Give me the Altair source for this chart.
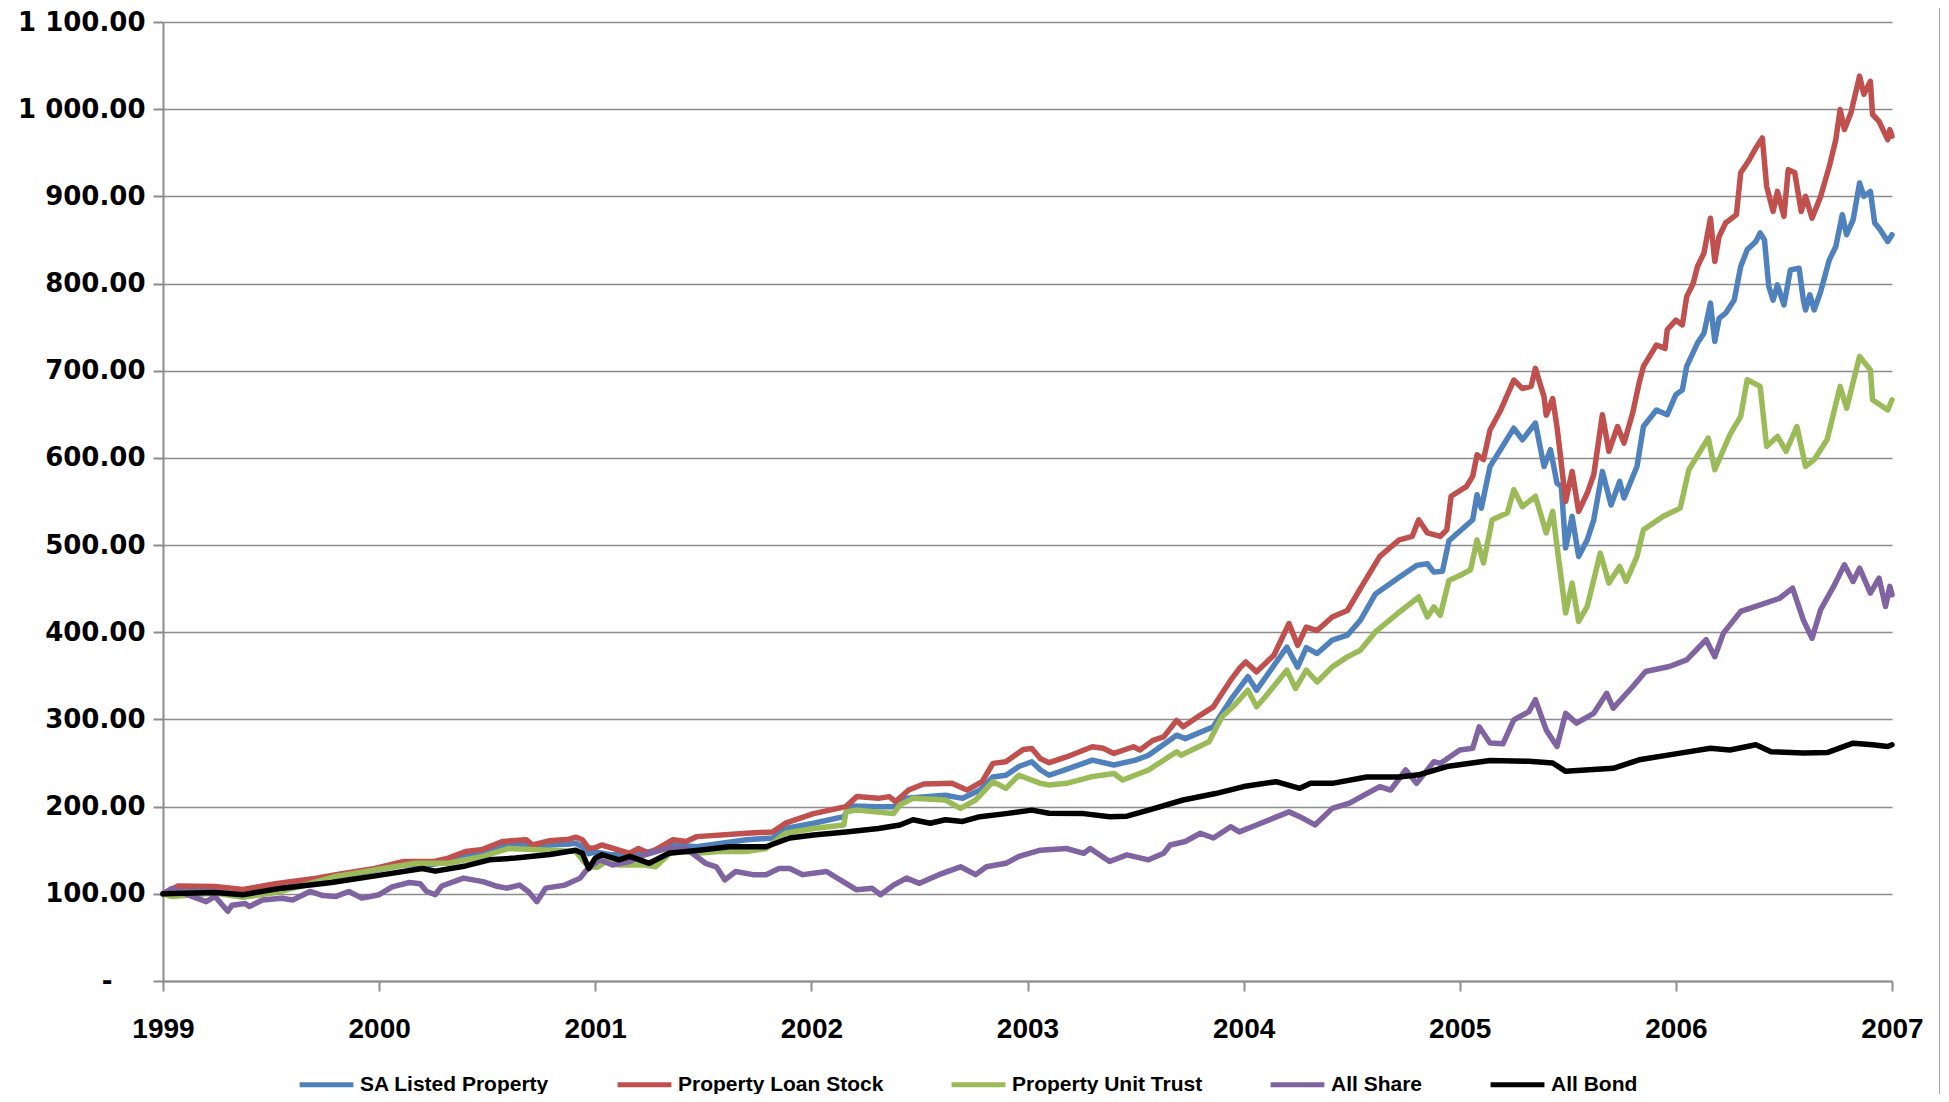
import altair as alt
import pandas as pd

series_names = ["SA Listed Property", "Property Loan Stock", "Property Unit Trust", "All Share", "All Bond"]
series_colors = ["#4F81BD", "#C0504D", "#9BBB59", "#8064A2", "#000000"]

# SA Listed Property
sal_t = [1999.00, 1999.07, 1999.24, 1999.37, 1999.52, 1999.71, 1999.80, 1999.98, 2000.11, 2000.25,
         2000.32, 2000.40, 2000.48, 2000.57, 2000.68, 2000.71, 2000.79, 2000.88, 2000.91, 2000.94,
         2000.97, 2001.00, 2001.08, 2001.20, 2001.36, 2001.47, 2001.70, 2001.82, 2001.88, 2002.01,
         2002.15, 2002.18, 2002.31, 2002.38, 2002.44, 2002.62, 2002.70, 2002.78, 2002.84, 2002.90,
         2002.96, 2003.02, 2003.06, 2003.10, 2003.18, 2003.30, 2003.40, 2003.50, 2003.56, 2003.69,
         2003.73, 2003.86, 2003.90, 2003.95, 2004.02, 2004.06, 2004.20, 2004.25, 2004.29, 2004.34,
         2004.41, 2004.48, 2004.54, 2004.61, 2004.72, 2004.80, 2004.85, 2004.88, 2004.92, 2004.95,
         2005.06, 2005.08, 2005.10, 2005.14, 2005.25, 2005.29, 2005.35, 2005.39, 2005.42, 2005.45,
         2005.47, 2005.49, 2005.52, 2005.55, 2005.59, 2005.62, 2005.66, 2005.70, 2005.74, 2005.76,
         2005.82, 2005.85, 2005.91, 2005.96, 2006.00, 2006.03, 2006.05, 2006.10, 2006.13, 2006.16,
         2006.18, 2006.20, 2006.23, 2006.27, 2006.30, 2006.33, 2006.37, 2006.39, 2006.41, 2006.43,
         2006.45, 2006.47, 2006.50, 2006.53, 2006.57, 2006.59, 2006.60, 2006.62, 2006.64, 2006.67,
         2006.71, 2006.74, 2006.77, 2006.79, 2006.82, 2006.85, 2006.87, 2006.90, 2006.92, 2006.94,
         2006.98, 2007.00]
sal_v = [100, 106, 105, 101, 107, 114, 119, 127, 133, 134,
         137, 144, 146, 154, 157, 152, 156, 157, 158, 154,
         146, 148, 144.7, 144.7, 156, 154, 162, 164, 175, 181,
         188.5, 200.8, 200, 200, 209.5, 213, 209.5, 219, 234, 236,
         246, 251.5, 242, 236, 242.7, 253.4, 247.7, 253.4, 259, 282,
         278, 291.6, 307, 326, 349, 333.6, 383, 360, 382.4, 375.6,
         391, 396.6, 413.7, 444, 463, 476.7, 478.6, 469, 470, 505,
         529, 557.7, 542.4, 590.2, 634, 620.8, 640, 590.2, 609.4, 571,
         567.3, 496.6, 532.9, 487, 506, 529, 584.5, 546, 573, 554,
         590.2, 636, 655, 649.5, 672.5, 678, 705, 731.7, 743, 777.6,
         733.5, 760, 766, 781.2, 819.5, 838.7, 848.3, 858, 850, 796.6,
         781, 798.5, 775.5, 815.7, 817.6, 781, 769.7, 787, 769.7, 790.8,
         827.2, 842.5, 879, 856, 873, 915.3, 900, 905.7, 869.4, 863.6,
         848.3, 856]

# Property Loan Stock
pls_t = [1999.00, 1999.07, 1999.24, 1999.37, 1999.52, 1999.71, 1999.80, 1999.98, 2000.11, 2000.25,
         2000.32, 2000.40, 2000.48, 2000.57, 2000.68, 2000.71, 2000.79, 2000.88, 2000.91, 2000.94,
         2000.97, 2001.00, 2001.03, 2001.16, 2001.20, 2001.25, 2001.36, 2001.42, 2001.47, 2001.70,
         2001.82, 2001.88, 2002.01, 2002.16, 2002.21, 2002.31, 2002.36, 2002.39, 2002.45, 2002.52,
         2002.65, 2002.72, 2002.79, 2002.84, 2002.90, 2002.98, 2003.02, 2003.06, 2003.10, 2003.18,
         2003.30, 2003.35, 2003.40, 2003.49, 2003.52, 2003.58, 2003.63, 2003.69, 2003.72, 2003.80,
         2003.86, 2003.89, 2003.94, 2003.98, 2004.01, 2004.06, 2004.14, 2004.21, 2004.25, 2004.29,
         2004.34, 2004.41, 2004.48, 2004.54, 2004.60, 2004.63, 2004.72, 2004.78, 2004.81, 2004.85,
         2004.91, 2004.94, 2004.96, 2005.03, 2005.06, 2005.08, 2005.11, 2005.14, 2005.19, 2005.25,
         2005.29, 2005.33, 2005.35, 2005.39, 2005.40, 2005.43, 2005.45, 2005.46, 2005.49, 2005.52,
         2005.55, 2005.59, 2005.62, 2005.66, 2005.69, 2005.73, 2005.76, 2005.80, 2005.83, 2005.85,
         2005.91, 2005.95, 2005.96, 2006.00, 2006.03, 2006.05, 2006.08, 2006.10, 2006.13, 2006.16,
         2006.18, 2006.20, 2006.23, 2006.28, 2006.30, 2006.34, 2006.37, 2006.40, 2006.42, 2006.45,
         2006.47, 2006.50, 2006.52, 2006.55, 2006.58, 2006.60, 2006.63, 2006.67, 2006.71, 2006.74,
         2006.76, 2006.78, 2006.81, 2006.83, 2006.85, 2006.87, 2006.90, 2006.91, 2006.94, 2006.98,
         2006.99, 2007.00]
pls_v = [100, 109, 108.4, 105, 111.5, 118, 122, 129, 137, 137,
         141, 148.5, 151, 160, 162, 156, 161, 162.6, 165, 162,
         152, 153, 156, 146.5, 152, 146.5, 162, 160, 165.6, 169.5,
         171, 181, 192, 200, 211.5, 209.5, 211.5, 205.7, 219, 226,
         226.7, 219, 228.6, 249.6, 251.5, 265.6, 266.8, 255, 250.4, 257,
         268.7, 267, 261, 268.7, 265, 276, 280, 299, 291.6, 305,
         314.5, 326, 345, 358.4, 366, 354.6, 373.7, 410, 385, 406,
         402, 417.6, 425, 450, 474.8, 487, 506, 510, 529, 514,
         510, 517.6, 556, 567, 578.8, 603.6, 598, 632, 655, 689.3,
         679.7, 682, 702.7, 670, 649, 668, 635.6, 615, 550, 584.5,
         538.6, 559.7, 580.7, 649.5, 607.5, 636, 617, 651.4, 686, 705,
         729.5, 725.6, 747, 758, 752.5, 785, 800, 819.5, 835, 875,
         825.3, 854, 869.4, 879, 927, 942, 955.6, 967, 911.5, 882.7,
         905.7, 877, 930.7, 927, 882.7, 900, 875, 900, 934.5, 965,
         999.6, 976.6, 995.8, 1016.9, 1038, 1017, 1032, 993.9, 986, 965,
         976.6, 969]

# Property Unit Trust
put_t = [1999.00, 1999.04, 1999.24, 1999.37, 1999.52, 1999.63, 1999.80, 2000.02, 2000.17, 2000.32,
         2000.48, 2000.60, 2000.79, 2000.91, 2000.94, 2000.97, 2001.01, 2001.05, 2001.11, 2001.23,
         2001.28, 2001.36, 2001.47, 2001.57, 2001.70, 2001.79, 2001.88, 2002.01, 2002.15, 2002.16,
         2002.21, 2002.38, 2002.41, 2002.47, 2002.62, 2002.69, 2002.76, 2002.84, 2002.90, 2002.96,
         2003.06, 2003.10, 2003.18, 2003.30, 2003.40, 2003.44, 2003.56, 2003.69, 2003.71, 2003.84,
         2003.90, 2003.95, 2004.02, 2004.06, 2004.10, 2004.20, 2004.24, 2004.29, 2004.34, 2004.41,
         2004.48, 2004.54, 2004.61, 2004.72, 2004.81, 2004.85, 2004.88, 2004.91, 2004.95, 2005.00,
         2005.05, 2005.08, 2005.11, 2005.15, 2005.22, 2005.25, 2005.29, 2005.35, 2005.40, 2005.43,
         2005.45, 2005.49, 2005.52, 2005.55, 2005.59, 2005.65, 2005.69, 2005.74, 2005.77, 2005.82,
         2005.85, 2005.94, 2006.02, 2006.06, 2006.15, 2006.18, 2006.25, 2006.30, 2006.33, 2006.39,
         2006.42, 2006.47, 2006.51, 2006.56, 2006.60, 2006.64, 2006.70, 2006.76, 2006.79, 2006.85,
         2006.90, 2006.91, 2006.98, 2007.00]
put_v = [100, 97, 101, 96, 101.5, 108.4, 120, 129, 135, 135,
         143, 152, 150, 148.5, 139, 131, 130.5, 137, 133, 133,
         131, 150, 146.5, 148.5, 148.5, 152, 169.5, 175, 179, 194,
         196, 192, 202, 209.5, 207.6, 198, 207.6, 228.6, 221, 236,
         226.7, 224.8, 226.7, 234.4, 238, 230.5, 242, 263, 259, 274.4,
         303, 314.5, 333.6, 314.5, 326, 356.5, 335.5, 356.5, 343, 360.3,
         371.8, 379.4, 400.4, 423, 440.5, 417.6, 429, 419.5, 459.5, 465,
         471.7, 506, 479.4, 529, 536.7, 563.5, 544, 556, 514, 538.6,
         498.5, 422, 456.4, 412.4, 429.6, 490.8, 456.4, 475.5, 458.3, 487,
         517.6, 532.9, 542.4, 586.4, 622.8, 586.4, 626.6, 647.6, 689.7, 682,
         613, 624.7, 607.5, 636, 590.2, 598, 621, 682, 657, 716.4,
         701, 666.7, 655, 666.7]

# All Share
alsi_t = [1999.00, 1999.04, 1999.09, 1999.20, 1999.24, 1999.30, 1999.32, 1999.38, 1999.40, 1999.46,
          1999.55, 1999.60, 1999.68, 1999.74, 1999.80, 1999.86, 1999.92, 2000.00, 2000.06, 2000.14,
          2000.19, 2000.22, 2000.26, 2000.29, 2000.39, 2000.48, 2000.54, 2000.59, 2000.65, 2000.69,
          2000.73, 2000.77, 2000.86, 2000.93, 2000.96, 2001.02, 2001.08, 2001.16, 2001.23, 2001.33,
          2001.42, 2001.51, 2001.56, 2001.60, 2001.65, 2001.73, 2001.79, 2001.85, 2001.90, 2001.96,
          2002.07, 2002.16, 2002.21, 2002.28, 2002.32, 2002.38, 2002.44, 2002.50, 2002.59, 2002.69,
          2002.76, 2002.81, 2002.90, 2002.96, 2003.06, 2003.18, 2003.26, 2003.29, 2003.38, 2003.46,
          2003.56, 2003.63, 2003.66, 2003.73, 2003.80, 2003.86, 2003.94, 2003.98, 2004.06, 2004.21,
          2004.26, 2004.33, 2004.41, 2004.49, 2004.57, 2004.63, 2004.68, 2004.75, 2004.80, 2004.88,
          2004.91, 2005.00, 2005.06, 2005.09, 2005.14, 2005.20, 2005.25, 2005.32, 2005.35, 2005.40,
          2005.45, 2005.49, 2005.54, 2005.62, 2005.68, 2005.71, 2005.80, 2005.86, 2005.97, 2006.05,
          2006.14, 2006.18, 2006.22, 2006.30, 2006.39, 2006.48, 2006.54, 2006.59, 2006.63, 2006.67,
          2006.73, 2006.78, 2006.82, 2006.85, 2006.90, 2006.94, 2006.97, 2006.99, 2007.00]
alsi_v = [100, 106, 101, 91, 97, 80, 87, 89, 85.5, 93,
          95, 93, 102.7, 98, 97, 102.7, 95, 99, 108, 113,
          111.5, 102.7, 99, 109, 118, 114, 109, 106.5, 110, 102.7,
          91, 106.5, 110, 118, 127.5, 139, 133, 137, 144.7, 152,
          152, 135, 131, 116, 125.6, 122, 122, 129, 129, 122,
          125.6, 112, 104.6, 106.5, 99, 110, 118, 112, 122, 131,
          122, 131, 135, 143, 150, 152, 146.5, 152, 137, 144.7,
          139, 146.5, 156, 160, 169.5, 164, 177, 171, 179, 194,
          188.5, 179, 198, 204, 215, 223, 219, 242, 226.7, 251.5,
          249.6, 265, 267, 291.6, 273, 272, 299.6, 309, 322.6, 288,
          269, 307, 295.8, 307, 330, 313, 337.5, 355, 360.8, 368.4,
          391.4, 372, 399, 424, 431.5, 439, 450.7, 414, 393, 426,
          452.6, 477.4, 458.3, 473.6, 445, 462, 429.6, 452.6, 443]

# All Bond
albi_t = [1999.00, 1999.24, 1999.37, 1999.55, 1999.78, 2000.02, 2000.20, 2000.26, 2000.40, 2000.51,
          2000.63, 2000.79, 2000.91, 2000.94, 2000.97, 2001.00, 2001.03, 2001.11, 2001.16, 2001.25,
          2001.34, 2001.48, 2001.62, 2001.79, 2001.90, 2002.01, 2002.16, 2002.31, 2002.41, 2002.47,
          2002.55, 2002.62, 2002.70, 2002.78, 2002.90, 2003.02, 2003.10, 2003.26, 2003.38, 2003.46,
          2003.56, 2003.72, 2003.87, 2004.00, 2004.15, 2004.26, 2004.31, 2004.41, 2004.57, 2004.72,
          2004.81, 2004.94, 2005.14, 2005.32, 2005.43, 2005.49, 2005.71, 2005.83, 2006.02, 2006.16,
          2006.25, 2006.37, 2006.44, 2006.59, 2006.70, 2006.82, 2006.91, 2006.98, 2007.00]
albi_v = [100, 101.5, 99, 106.5, 113, 122, 129, 126, 132, 139,
          141, 145, 150, 146.5, 129, 141, 145, 139, 143, 135,
          146.5, 150, 154, 154, 164, 167.5, 171, 175, 179, 185,
          181, 185, 183, 188.5, 192, 196, 192.4, 192, 188.5, 189,
          196, 207.6, 215, 223, 228.6, 221, 226.7, 226.7, 234, 234,
          236.5, 246, 253, 252, 250, 240.5, 244, 253.7, 261.4, 267,
          265, 271, 263, 261.4, 262, 272.8, 271, 269, 271]

y_ticks = [0, 100, 200, 300, 400, 500, 600, 700, 800, 900, 1000, 1100]
x_ticks = [1999, 2000, 2001, 2002, 2003, 2004, 2005, 2006, 2007]

rows = []
for name, ts, vs in zip(series_names,
                        [sal_t, pls_t, put_t, alsi_t, albi_t],
                        [sal_v, pls_v, put_v, alsi_v, albi_v]):
    for i, (t, v) in enumerate(zip(ts, vs)):
        rows.append({"series": name, "t": t, "v": v, "i": i})
df = pd.DataFrame(rows)

label_expr = "datum.value == 0 ? '-' : replace(format(datum.value, ',.2f'), ',', ' ')"

grey = "#8c8c8c"

lines = alt.Chart(df).mark_line(strokeWidth=5.5, strokeJoin="round", strokeCap="round").encode(
    x=alt.X("t:Q",
            scale=alt.Scale(domain=[1999, 2007], nice=False, zero=False),
            axis=alt.Axis(values=x_ticks, format="d", title=None, grid=False,
                          labelFont="Liberation Sans", labelFontSize=28, labelFontWeight="bold",
                          labelColor="black", labelPadding=24, labelFlush=False,
                          tickSize=10, tickColor=grey, tickWidth=2,
                          domainColor=grey, domainWidth=2)),
    y=alt.Y("v:Q",
            scale=alt.Scale(domain=[0, 1100], nice=False, zero=True),
            axis=alt.Axis(values=y_ticks, title=None, labelExpr=label_expr,
                          labelFont="DejaVu Sans", labelFontSize=26, labelFontWeight="bold",
                          labelColor="black",
                          labelPadding={"condition": {"test": "datum.value == 0", "value": 41}, "value": 8},
                          tickSize=10, tickColor=grey, tickWidth=2,
                          domainColor=grey, domainWidth=2,
                          grid=True, gridColor=grey, gridWidth=1.6)),
    color=alt.Color("series:N",
                    scale=alt.Scale(domain=series_names, range=series_colors),
                    legend=alt.Legend(title=None, orient="none", legendX=134, legendY=1033,
                                      direction="horizontal", columns=5, gridAlign="each",
                                      symbolType="stroke", symbolStrokeWidth=5, symbolSize=2900,
                                      labelFont="Liberation Sans", labelFontSize=21,
                                      labelFontWeight="bold", labelColor="black", labelOffset=4,
                                      labelLimit=400, columnPadding=57, padding=0)),
    order=alt.Order("i:Q"),
)

border = alt.Chart(pd.DataFrame({"a": [0]})).mark_rule(color="#a6a6a6", strokeWidth=2).encode(
    x=alt.value(1777), y=alt.value(-14), y2=alt.value(1080)
)

chart = alt.layer(lines, border).properties(
    width=1729, height=959,
    autosize=alt.AutoSizeParams(type="none"),
    padding={"left": 155, "top": 14, "right": 48, "bottom": 113},
    background="white",
).configure_view(stroke=None)

chart.save("out.html", embed_options={"renderer": "svg", "actions": False})
